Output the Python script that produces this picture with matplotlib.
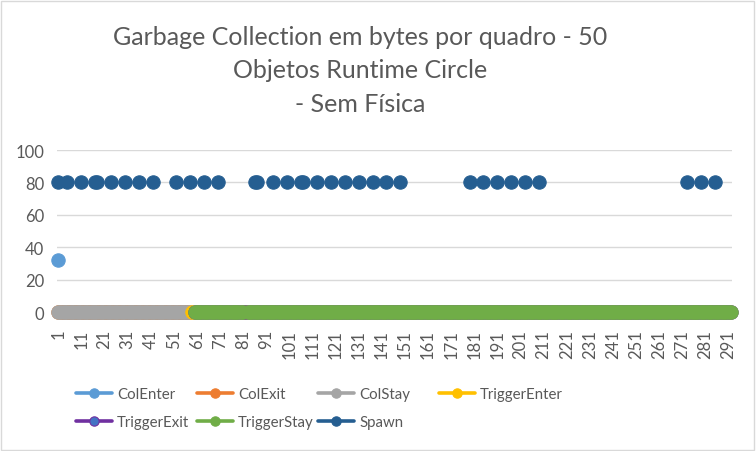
import numpy as np
import matplotlib
matplotlib.use("Agg")
import matplotlib.pyplot as plt
from matplotlib.patches import Rectangle

plt.rcParams['font.family'] = ['Lato', 'DejaVu Sans']

# frames 1..292
n_frames = 292
frames = np.arange(1, n_frames + 1)

# values
colenter_first = 32          # frame 1
colstay_last = 58            # gray run 1..58
trigger_enter_frames = [59, 82]
trigger_stay_start = 60
trigger_stay_gap = [82]
spawn_frames = [1, 5, 11, 17, 18, 24, 30, 36, 42, 52, 58, 64, 70, 86, 87,
                94, 100, 106, 107, 113, 119, 125, 131, 137, 143, 149,
                179, 185, 191, 197, 203, 209, 273, 279, 285]
spawn_value = 80

series_names = ["ColEnter", "ColExit", "ColStay", "TriggerEnter",
                "TriggerExit", "TriggerStay", "Spawn"]
colors = ["#5B9BD5", "#ED7D31", "#A5A5A5", "#FFC000",
          "#7030A0", "#70AD47", "#255E91"]
tick_labels = [str(i) for i in range(1, n_frames + 1, 10)]


def empty():
    return np.full(n_frames, np.nan)

colenter = empty()
colenter[0] = colenter_first
colenter[2:colstay_last] = 0
colexit = empty()
colexit[:colstay_last] = 0
colstay = empty()
colstay[:colstay_last] = 0
tenter = empty()
for f in trigger_enter_frames:
    tenter[f - 1] = 0
texit = empty()
texit[trigger_stay_start - 1:] = 0
tstay = empty()
tstay[trigger_stay_start - 1:] = 0
for f in trigger_stay_gap:
    tstay[f - 1] = np.nan
spawn = empty()
for f in spawn_frames:
    spawn[f - 1] = spawn_value

data = [colenter, colexit, colstay, tenter, texit, tstay, spawn]

fig = plt.figure(figsize=(7.56, 4.52), dpi=100)
ax = fig.add_axes([57/756, 1-313/452, (732-57)/756, (313-151)/452])

txt = "#595959"
handles = []
for name, vals, c in zip(series_names, data, colors):
    mfc = c
    if name == "TriggerExit":
        mfc = "#4472C4"
    h, = ax.plot(frames, vals, color=c, lw=2.6, marker='o', markersize=9.6,
                 markerfacecolor=mfc, markeredgecolor=c, markeredgewidth=0.8,
                 label=name, clip_on=False, solid_capstyle='round')
    handles.append(h)

ax.set_xlim(0.5, n_frames + 0.5)
ax.set_ylim(0, 100)
ax.set_yticks(range(0, 101, 20))
ax.set_xticks(range(1, n_frames + 1, 10))
ax.set_xticklabels(tick_labels, rotation=90)
ax.tick_params(axis='both', length=0, colors=txt, labelsize=12)
ax.tick_params(axis='x', pad=12)
ax.tick_params(axis='y', pad=9)
ax.grid(axis='y', color="#D9D9D9", lw=1)
ax.set_axisbelow(True)
for s in ax.spines.values():
    s.set_visible(False)

fig.text(360/756, 1-26/452,
         "Garbage Collection em bytes por quadro - 50\nObjetos Runtime Circle\n- Sem Física",
         ha='center', va='top', fontsize=18, color=txt, linespacing=1.55)

# Excel legend: 4 equal-width columns, rows read left to right
col_x = [76, 197, 318, 439]
for j, x in enumerate(col_x):
    idx = [i for i in (j, j + 4) if i < len(series_names)]
    lg = fig.legend([handles[i] for i in idx], [series_names[i] for i in idx],
                    loc='upper left', bbox_to_anchor=(x/756, 1-388/452),
                    frameon=False, fontsize=10.8, labelcolor=txt,
                    handlelength=2.4, handletextpad=0.34, labelspacing=0.95,
                    markerscale=0.7, borderpad=0, borderaxespad=0)

fig.patches.append(Rectangle((1/756, 1/452), 753/756, 449/452, fill=False,
                             edgecolor="#D9D9D9", lw=1, transform=fig.transFigure))

fig.savefig("out.png", dpi=100)
